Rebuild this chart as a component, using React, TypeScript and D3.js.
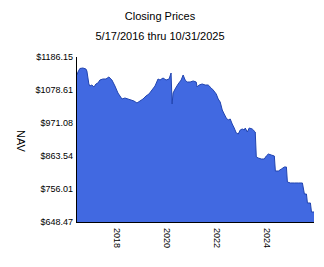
import React from "react";
import * as d3 from "d3";

const dates: string[] = [
  "2016-05-17","2016-05-31","2016-06-28","2016-08-11","2016-09-24","2016-10-08","2016-11-06","2016-11-21","2016-12-20",
  "2017-01-19","2017-02-17","2017-03-18","2017-04-16","2017-05-30","2017-07-13","2017-08-25","2017-10-08","2017-11-21",
  "2018-01-04","2018-02-02","2018-03-04","2018-04-16","2018-05-30","2018-07-13","2018-08-25","2018-10-08","2018-11-21",
  "2019-01-04","2019-02-17","2019-04-01","2019-05-15","2019-06-28","2019-08-11","2019-09-09","2019-10-23","2019-12-06",
  "2020-01-19","2020-02-17","2020-03-03","2020-03-17","2020-04-16","2020-05-30","2020-07-13","2020-08-11","2020-09-09","2020-10-08","2020-11-21",
  "2021-01-04","2021-02-17","2021-03-03","2021-04-01","2021-05-15","2021-06-28","2021-08-11","2021-09-24","2021-10-23","2021-12-06",
  "2022-01-04","2022-02-02","2022-03-04","2022-04-01","2022-05-01","2022-05-30","2022-06-28","2022-07-27","2022-08-25","2022-09-24","2022-10-23","2022-11-21","2022-12-20",
  "2023-01-19","2023-02-02","2023-03-04","2023-04-01","2023-05-15","2023-06-28","2023-07-13","2023-08-11","2023-09-24","2023-11-06","2023-12-06",
  "2024-01-04","2024-02-17","2024-04-01","2024-04-16","2024-05-30","2024-07-13","2024-08-25","2024-09-24","2024-10-08","2024-11-21",
  "2025-01-19","2025-03-18","2025-05-15","2025-06-13","2025-07-13","2025-07-27","2025-09-09","2025-09-24","2025-10-31"
];

const nav: number[] = [
  1127.5,1137.3,1148.7,1150.3,1147.0,1140.5,1098.2,1091.6,1094.9,
  1088.4,1098.2,1101.4,1111.2,1114.5,1114.5,1121.0,1111.2,1091.6,
  1068.8,1059.1,1049.3,1052.5,1049.3,1046.0,1042.8,1036.3,1042.8,
  1049.3,1059.1,1065.6,1078.6,1091.6,1114.5,1111.2,1117.7,1111.2,
  1114.5,1134.0,1033.0,1068.8,1081.9,1098.2,1111.2,1127.5,1111.2,1104.7,1104.7,
  1108.0,1104.7,1088.4,1094.9,1098.2,1094.9,1094.9,1085.1,1078.6,1065.6,
  1049.3,1039.5,1013.4,1000.4,987.4,980.9,984.1,967.8,954.8,938.5,935.2,948.3,951.5,
  948.3,954.8,941.7,954.8,951.5,941.7,860.3,857.0,853.8,853.8,863.5,
  870.0,866.8,863.5,814.6,814.6,821.2,827.7,827.7,778.8,775.6,
  775.6,775.6,775.6,739.7,739.7,710.4,710.4,681.1,681.1
];

const yTickValues: number[] = [648.47, 756.01, 863.54, 971.08, 1078.61, 1186.15];
const xTickYears: number[] = [2018, 2020, 2022, 2024];

const title = "Closing Prices";
const subtitle = "5/17/2016 thru 10/31/2025";
const yLabel = "NAV";

export default function App() {
  const W = 324, H = 267;
  const left = 77, right = 314, top = 57, bottom = 222;
  const parse = d3.timeParse("%Y-%m-%d");
  const data = dates.map((d, i) => ({ date: parse(d) as Date, v: nav[i] }));

  const x = d3.scaleTime()
    .domain([parse("2016-05-17") as Date, parse("2025-10-31") as Date])
    .range([left, right]);
  const y = d3.scaleLinear().domain([648.47, 1186.15]).range([bottom, top]);

  const area = d3.area<{ date: Date; v: number }>()
    .x(d => x(d.date))
    .y0(bottom)
    .y1(d => y(d.v));
  const line = d3.line<{ date: Date; v: number }>()
    .x(d => x(d.date))
    .y(d => y(d.v));

  const font = "'Liberation Sans', Arial, sans-serif";

  return (
    <div style={{ position: "absolute", left: 0, top: 0 }}>
      <svg width={W} height={H} style={{ display: "block", background: "#fff" }} fontFamily={font}>
        <text x={160} y={20} fontSize={11} textAnchor="middle" fill="#000">{title}</text>
        <text x={160} y={40} fontSize={11} textAnchor="middle" fill="#000">{subtitle}</text>

        <path d={area(data) || ""} fill="#4169e1" />
        <path d={line(data) || ""} fill="none" stroke="#2144b0" strokeWidth={1} />

        <line x1={left - 0.5} x2={left - 0.5} y1={top} y2={bottom + 0.5} stroke="#000" strokeWidth={1} />
        <line x1={left - 1} x2={right} y1={bottom + 0.5} y2={bottom + 0.5} stroke="#000" strokeWidth={1} />

        {yTickValues.map(v => (
          <text key={v} x={73} y={y(v)} dy={3.2} fontSize={9} textAnchor="end" fill="#000">
            {"$" + v.toFixed(2)}
          </text>
        ))}

        {xTickYears.map(yr => {
          const px = x(new Date(yr, 0, 1));
          return (
            <text key={yr} transform={`translate(${px - 1},228) rotate(90)`} dy={3.2} fontSize={9} textAnchor="start" fill="#000">
              {String(yr)}
            </text>
          );
        })}

        <text transform="translate(21,141) rotate(90)" dy={4} fontSize={11} textAnchor="middle" fill="#000">{yLabel}</text>
      </svg>
    </div>
  );
}
